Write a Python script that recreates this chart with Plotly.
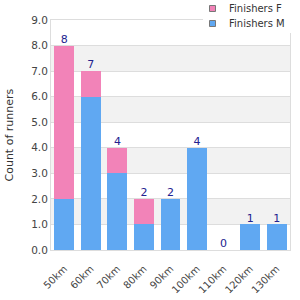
import plotly.graph_objects as go

categories = ["50km", "60km", "70km", "80km", "90km", "100km", "110km", "120km", "130km"]
finishers_m = [2, 6, 3, 1, 2, 4, 0, 1, 1]
finishers_f = [6, 1, 1, 1, 0, 0, 0, 0, 0]
totals = [m + f for m, f in zip(finishers_m, finishers_f)]
series_names = ["Finishers F", "Finishers M"]
y_title = "Count of runners"

color_m = "#60a8f2"
color_f = "#f283b8"
font = "DejaVu Sans"

W, H = 300, 300
ML, MR, MT, MB = 51, 10, 20, 50
PW, PH = W - ML - MR, H - MT - MB

def px(x):
    return (x - ML) / PW

def py(y):
    return (H - MB - y) / PH

fig = go.Figure()
fig.add_trace(go.Bar(x=categories, y=finishers_m, marker=dict(color=color_m, line=dict(width=0)),
                     name="Finishers M", showlegend=False))
fig.add_trace(go.Bar(x=categories, y=finishers_f, marker=dict(color=color_f, line=dict(width=0)),
                     name="Finishers F", showlegend=False))
fig.add_trace(go.Scatter(x=categories, y=totals, mode="text", text=[str(t) for t in totals],
                         textposition="top center", textfont=dict(color="#22228f", size=11, family=font),
                         showlegend=False, hoverinfo="skip", cliponaxis=False))

shapes = []
for lo in range(1, 9, 2):
    shapes.append(dict(type="rect", xref="paper", yref="y", x0=0, x1=1, y0=lo, y1=lo + 1,
                       fillcolor="#f2f2f2", line=dict(width=0), layer="below"))
# legend background
shapes.append(dict(type="rect", xref="paper", yref="paper", x0=px(203), x1=px(300), y0=py(33), y1=py(0),
                   fillcolor="white", line=dict(width=0), layer="above"))
annotations = []
for i, (name, col) in enumerate(zip(series_names, [color_f, color_m])):
    cy = 8.5 + 15 * i
    shapes.append(dict(type="rect", xref="paper", yref="paper", x0=px(209.5), x1=px(215.5),
                       y0=py(cy + 3), y1=py(cy - 3), fillcolor=col, line=dict(color="#777", width=1),
                       layer="above"))
    annotations.append(dict(xref="paper", yref="paper", x=px(227), y=py(cy), text=name, showarrow=False,
                            xanchor="left", yanchor="middle", font=dict(size=10, color="#333", family=font)))
annotations.append(dict(xref="paper", yref="paper", x=px(8.5), y=0.5, text=y_title, showarrow=False,
                        textangle=-90, xanchor="center", yanchor="middle",
                        font=dict(size=11, color="#333", family=font)))

fig.update_layout(
    width=W, height=H,
    margin=dict(l=ML, r=MR, t=MT, b=MB),
    barmode="stack", bargap=0.25,
    plot_bgcolor="white", paper_bgcolor="white",
    font=dict(family=font, size=10, color="#444"),
    shapes=shapes, annotations=annotations,
    showlegend=False,
    xaxis=dict(tickangle=-45, showline=True, linecolor="#ddd", mirror=True, ticks="outside", ticklen=8,
               tickcolor="rgba(0,0,0,0)", showgrid=False, tickfont=dict(size=10), automargin=False),
    yaxis=dict(range=[0, 9], dtick=1, tickformat=".1f", showline=True, linecolor="#ddd", mirror=True,
               gridcolor="#ddd", zeroline=False, ticks="", automargin=False,
               tickfont=dict(size=10.5)),
)
fig.write_html("out.html")
